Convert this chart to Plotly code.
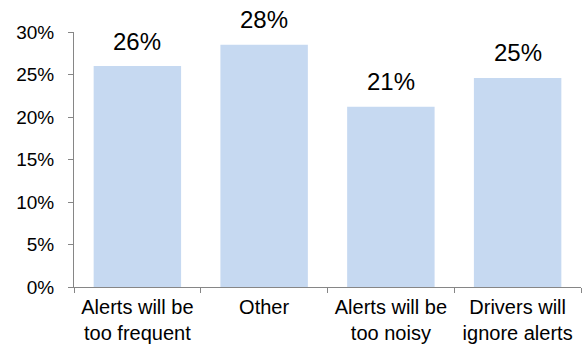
import plotly.graph_objects as go

categories = ["Alerts will be<br>too frequent", "Other", "Alerts will be<br>too noisy", "Drivers will<br>ignore alerts"]
values = [0.260, 0.285, 0.212, 0.246]
value_labels = ["26%", "28%", "21%", "25%"]
y_ticks = [0, 0.05, 0.10, 0.15, 0.20, 0.25, 0.30]

FONT = "Liberation Sans, Arial, sans-serif"

fig = go.Figure()
fig.add_trace(go.Bar(
    x=categories, y=values,
    marker=dict(color="#C6D9F1", line=dict(width=0)),
    hoverinfo="skip",
))

for c, v, t in zip(categories, values, value_labels):
    fig.add_annotation(x=c, y=v, text=t, showarrow=False, yanchor="middle",
                       yshift=25, font=dict(family=FONT, size=24, color="black"))

fig.update_layout(
    width=583, height=350,
    margin=dict(l=74, r=2, t=32, b=63),
    paper_bgcolor="white", plot_bgcolor="white",
    bargap=0.31, showlegend=False,
    font=dict(family=FONT, color="black"),
)
fig.update_xaxes(
    showline=True, linecolor="#868686", linewidth=1,
    ticks="outside", ticklen=5, tickcolor="#868686", tickson="boundaries",
    tickfont=dict(family=FONT, size=20, color="black"),
    showgrid=False, zeroline=False, ticklabelstandoff=2,
)
fig.update_yaxes(
    range=[0, 0.30], tickvals=y_ticks, tickformat=".0%",
    showline=True, linecolor="#868686", linewidth=1,
    ticks="outside", ticklen=5, tickcolor="#868686",
    tickfont=dict(family=FONT, size=19, color="black"),
    showgrid=False, zeroline=False, ticklabelstandoff=10,
)

fig.write_html("out.html")
